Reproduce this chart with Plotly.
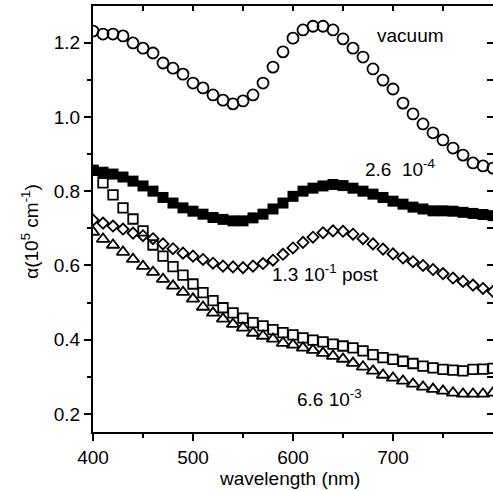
import plotly.graph_objects as go

wavelength = list(range(400, 801, 10))

vacuum = [1.231, 1.223, 1.223, 1.218, 1.199, 1.185, 1.172, 1.145, 1.131, 1.115,
          1.091, 1.078, 1.059, 1.045, 1.035, 1.043, 1.059, 1.091, 1.134, 1.175,
          1.212, 1.234, 1.244, 1.244, 1.234, 1.210, 1.185, 1.161, 1.129, 1.099,
          1.075, 1.037, 1.008, 0.981, 0.957, 0.938, 0.916, 0.897, 0.876, 0.868,
          0.862]

p_2_6e4 = [0.856, 0.851, 0.846, 0.838, 0.827, 0.814, 0.800, 0.783, 0.768, 0.755,
           0.746, 0.738, 0.729, 0.724, 0.720, 0.720, 0.728, 0.738, 0.752, 0.768,
           0.786, 0.800, 0.808, 0.814, 0.818, 0.815, 0.808, 0.800, 0.792, 0.783,
           0.773, 0.765, 0.757, 0.752, 0.747, 0.747, 0.746, 0.743, 0.740, 0.737,
           0.734]

p_1_3e1_post = [0.722, 0.714, 0.706, 0.698, 0.687, 0.680, 0.672, 0.658, 0.645, 0.633,
                0.625, 0.616, 0.606, 0.598, 0.596, 0.594, 0.598, 0.605, 0.614, 0.630,
                0.647, 0.662, 0.676, 0.688, 0.693, 0.692, 0.684, 0.672, 0.658, 0.644,
                0.631, 0.620, 0.610, 0.600, 0.589, 0.578, 0.566, 0.557, 0.547, 0.538,
                0.530]

open_squares = [0.856, 0.822, 0.790, 0.755, 0.725, 0.693, 0.655, 0.625, 0.597, 0.574,
                0.550, 0.527, 0.505, 0.486, 0.472, 0.458, 0.446, 0.437, 0.427, 0.419,
                0.413, 0.405, 0.399, 0.394, 0.388, 0.383, 0.378, 0.370, 0.360, 0.352,
                0.347, 0.342, 0.336, 0.329, 0.324, 0.320, 0.318, 0.316, 0.320, 0.321,
                0.323]

p_6_6e3 = [0.690, 0.671, 0.655, 0.636, 0.617, 0.598, 0.582, 0.563, 0.545, 0.528,
           0.510, 0.488, 0.472, 0.456, 0.442, 0.432, 0.418, 0.410, 0.402, 0.391,
           0.386, 0.378, 0.372, 0.364, 0.356, 0.348, 0.337, 0.327, 0.316, 0.305,
           0.297, 0.289, 0.281, 0.273, 0.267, 0.262, 0.257, 0.254, 0.254, 0.254,
           0.257]

labels = ["vacuum", "2.6  10<sup>-4</sup>", "1.3 10<sup>-1</sup> post", "6.6 10<sup>-3</sup>"]
label_x = [717, 707, 632, 636]
label_y = [1.218, 0.862, 0.580, 0.243]

x_ticks = [400, 500, 600, 700]
y_ticks = [0.2, 0.4, 0.6, 0.8, 1.0, 1.2]

XR = [400, 800]
YR = [0.1515, 1.2985]

FONT = "Liberation Sans, Arial, Helvetica, sans-serif"
LW = 1.8

fig = go.Figure()

fig.add_trace(go.Scatter(x=wavelength, y=vacuum, mode="markers",
                         marker=dict(symbol="circle-open", size=11, color="black",
                                     line=dict(width=LW, color="black")),
                         showlegend=False))
fig.add_trace(go.Scatter(x=wavelength, y=p_2_6e4, mode="markers",
                         marker=dict(symbol="square", size=11, color="black",
                                     line=dict(width=0)),
                         showlegend=False))
fig.add_trace(go.Scatter(x=wavelength, y=open_squares, mode="markers",
                         marker=dict(symbol="square-open", size=9.5, color="black",
                                     line=dict(width=LW, color="black")),
                         showlegend=False))
fig.add_trace(go.Scatter(x=wavelength, y=p_1_3e1_post, mode="markers",
                         marker=dict(symbol="diamond-open", size=8.5, color="black",
                                     line=dict(width=LW, color="black")),
                         showlegend=False))
fig.add_trace(go.Scatter(x=wavelength, y=p_6_6e3, mode="markers",
                         marker=dict(symbol="triangle-up-open", size=11, color="black",
                                     line=dict(width=LW, color="black")),
                         showlegend=False))
# helper trace for mirrored (top/right) axes
fig.add_trace(go.Scatter(x=[600], y=[0.5], xaxis="x2", yaxis="y2", mode="markers",
                         marker=dict(opacity=0), showlegend=False, hoverinfo="skip"))

for t, xx, yy in zip(labels, label_x, label_y):
    fig.add_annotation(x=xx, y=yy, xref="x", yref="y", text=t, showarrow=False,
                       font=dict(family=FONT, size=19, color="black"))

fig.add_annotation(x=0.49, y=-0.11, xref="paper", yref="paper", yanchor="middle",
                   text="wavelength (nm)", showarrow=False,
                   font=dict(family=FONT, size=19, color="black"))
fig.add_annotation(x=-0.1575, y=0.47, xref="paper", yref="paper", xanchor="center",
                   yanchor="middle", textangle=-90,
                   text="α(10<sup>5</sup> cm<sup>-1</sup>)", showarrow=False,
                   font=dict(family=FONT, size=19, color="black"))

fig.update_layout(
    width=493, height=491,
    margin=dict(l=93, r=0, t=6, b=59),
    plot_bgcolor="white", paper_bgcolor="white",
    font=dict(family=FONT, size=18, color="black"),
    xaxis=dict(range=XR, showgrid=False, zeroline=False, showline=True, linewidth=2,
               linecolor="black", ticks="outside", ticklen=7, tickwidth=2,
               tickcolor="black", tickvals=x_ticks,
               tickfont=dict(family=FONT, size=19),
               minor=dict(tickvals=[450, 550, 650, 750], ticks="outside", ticklen=4,
                          tickwidth=2, tickcolor="black")),
    yaxis=dict(range=YR, showgrid=False, zeroline=False, showline=True, linewidth=2,
               linecolor="black", ticks="outside", ticklen=7, tickwidth=2,
               tickcolor="black", tickvals=y_ticks, tickformat=".1f",
               tickfont=dict(family=FONT, size=19),
               minor=dict(tickvals=[0.3, 0.5, 0.7, 0.9, 1.1], ticks="outside",
                          ticklen=4, tickwidth=2, tickcolor="black")),
    xaxis2=dict(range=XR, overlaying="x", side="top", showgrid=False, zeroline=False,
                showline=True, linewidth=2, linecolor="black", ticks="inside",
                ticklen=5, tickwidth=2, tickcolor="black", showticklabels=False,
                tickvals=[450, 500, 550, 600, 650, 700, 750]),
    yaxis2=dict(range=YR, overlaying="y", side="right", showgrid=False, zeroline=False,
                showline=False, ticks="inside",
                ticklen=6, tickwidth=2, tickcolor="black", showticklabels=False,
                tickvals=[0.2, 0.3, 0.4, 0.5, 0.6, 0.7, 0.8, 0.9, 1.0, 1.1, 1.2]),
)

fig.write_html("out.html",
               config={"displayModeBar": False},
               post_script="document.body.style.margin='0px';"
                           "document.body.style.padding='0px';"
                           "document.body.style.overflow='hidden';")
